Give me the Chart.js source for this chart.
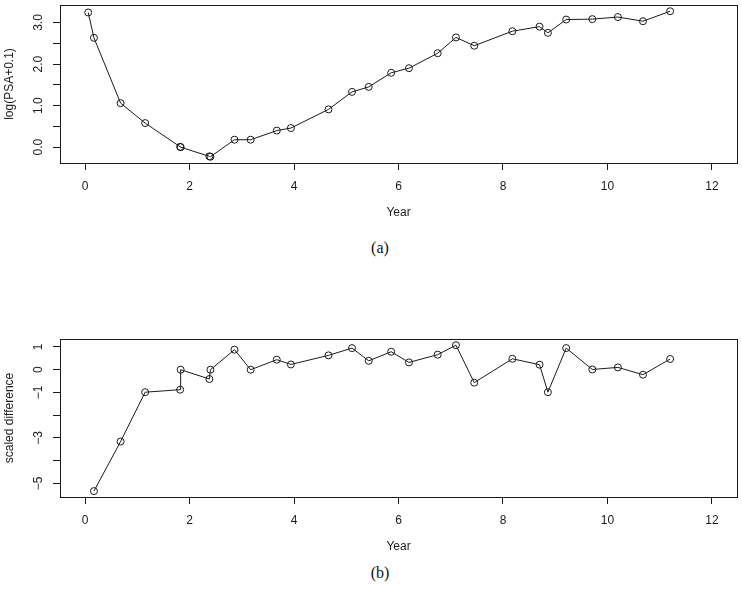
<!DOCTYPE html>
<html>
<head>
<meta charset="utf-8">
<script src="https://cdn.jsdelivr.net/npm/chart.js@4.4.1/dist/chart.umd.min.js"></script>
<style>
  body { margin: 0; background: #fff; width: 742px; height: 593px; position: relative; overflow: hidden; }
  .panel { position: absolute; left: 0; width: 742px; height: 230px; }
  .cap { position: absolute; width: 60px; margin-left: -30px; text-align: center;
         font-family: "Liberation Serif", "DejaVu Serif", serif; font-size: 16px; color: #111; }
</style>
</head>
<body>
<div class="panel" style="top:0"><canvas id="panelA"></canvas></div>
<div class="cap" style="left:380px; top:239px">(a)</div>
<div class="panel" style="top:334px"><canvas id="panelB"></canvas></div>
<div class="cap" style="left:380px; top:564px">(b)</div>
<script>
// panel (a): log PSA over time
const yearA = [0.06, 0.17, 0.68, 1.15, 1.82, 1.83, 2.38, 2.40, 2.86, 3.17, 3.67, 3.94, 4.66, 5.11,
               5.43, 5.86, 6.20, 6.75, 7.10, 7.45, 8.18, 8.70, 8.86, 9.21, 9.71, 10.20, 10.68, 11.20];
const logPsa = [3.24, 2.63, 1.06, 0.58, 0.01, 0.00, -0.22, -0.23, 0.18, 0.18, 0.40, 0.46, 0.91, 1.33,
                1.45, 1.79, 1.90, 2.26, 2.64, 2.44, 2.79, 2.90, 2.75, 3.07, 3.08, 3.13, 3.03, 3.27];

// panel (b): scaled differences
const yearB = [0.17, 0.68, 1.15, 1.82, 1.83, 2.38, 2.40, 2.86, 3.17, 3.67, 3.94, 4.66, 5.11, 5.43,
               5.86, 6.20, 6.75, 7.10, 7.45, 8.18, 8.70, 8.86, 9.21, 9.71, 10.20, 10.68, 11.20];
const scaledDiff = [-5.34, -3.16, -0.99, -0.88, 0.00, -0.41, 0.00, 0.88, 0.00, 0.44, 0.23, 0.63, 0.95, 0.39,
                    0.79, 0.32, 0.66, 1.08, -0.57, 0.48, 0.22, -0.99, 0.95, 0.01, 0.10, -0.22, 0.47];

// ticks
const xTicks = [0, 2, 4, 6, 8, 10, 12];
const yTicksA = [0, 0.5, 1, 1.5, 2, 2.5, 3];
const yLabelsA = [0, 1, 2, 3];
const yLabelTextA = ['0.0', '1.0', '2.0', '3.0'];
const yTicksB = [-5, -4, -3, -2, -1, 0, 1];
const yLabelsB = [-5, -3, -1, 0, 1];
const yLabelTextB = ['\u22125', '\u22123', '\u22121', '0', '1'];

const ink = '#1a1a1a';
const sans = '"Liberation Sans", Arial, Helvetica, sans-serif';

// R-like box, rotated y labels and axis titles
const rFrame = {
    id: 'rFrame',
    afterDraw(chart, args, o) {
        const ctx = chart.ctx;
        const a = chart.chartArea;
        const ys = chart.scales.y;
        ctx.save();
        ctx.strokeStyle = ink;
        ctx.lineWidth = 1;
        ctx.strokeRect(Math.round(a.left) + 0.5, Math.round(a.top) + 0.5,
                       Math.round(a.right - a.left), Math.round(a.bottom - a.top));
        ctx.fillStyle = ink;
        ctx.font = '12px ' + sans;
        ctx.textAlign = 'center';
        ctx.textBaseline = 'middle';
        o.labels.forEach((v, i) => {
            const y = ys.getPixelForValue(v);
            ctx.save();
            ctx.translate(38.5, y);
            ctx.rotate(-Math.PI / 2);
            ctx.fillText(o.texts[i], 0, 0);
            ctx.restore();
        });
        ctx.save();
        ctx.translate(10, (a.top + a.bottom) / 2);
        ctx.rotate(-Math.PI / 2);
        ctx.fillText(o.yTitle, 0, 0);
        ctx.restore();
        ctx.fillText('Year', (a.left + a.right) / 2, 213);
        ctx.restore();
    }
};

function makePanel(id, xs, ys, yMin, yMax, yTicks, yLabels, yTexts, yTitle) {
    const pts = xs.map((x, i) => ({ x: x, y: ys[i] }));
    return new Chart(document.getElementById(id), {
        type: 'scatter',
        data: {
            datasets: [{
                data: pts,
                showLine: true,
                borderColor: ink,
                borderWidth: 1,
                tension: 0,
                pointStyle: 'circle',
                pointRadius: 3.5,
                pointBorderWidth: 1,
                pointBorderColor: ink,
                pointBackgroundColor: 'rgba(0,0,0,0)'
            }]
        },
        options: {
            responsive: true,
            maintainAspectRatio: false,
            animation: false,
            layout: { padding: { top: 4, right: 5, left: 0, bottom: 0 } },
            plugins: {
                legend: { display: false },
                tooltip: { enabled: false },
                rFrame: { labels: yLabels, texts: yTexts, yTitle: yTitle }
            },
            scales: {
                x: {
                    type: 'linear',
                    min: -0.48,
                    max: 12.48,
                    afterBuildTicks: s => { s.ticks = xTicks.map(v => ({ value: v })); },
                    afterFit: s => { s.height = 67; },
                    grid: { drawOnChartArea: false, drawTicks: true, tickLength: 7, color: ink },
                    border: { display: false },
                    ticks: { color: ink, padding: 9, maxRotation: 0, font: { family: sans, size: 12 } }
                },
                y: {
                    type: 'linear',
                    min: yMin,
                    max: yMax,
                    afterBuildTicks: s => { s.ticks = yTicks.map(v => ({ value: v })); },
                    afterFit: s => { s.width = 60; },
                    grid: { drawOnChartArea: false, drawTicks: true, tickLength: 7, color: ink },
                    border: { display: false },
                    ticks: { display: false }
                }
            }
        },
        plugins: [rFrame]
    });
}

makePanel('panelA', yearA, logPsa, -0.38, 3.42, yTicksA, yLabelsA, yLabelTextA, 'log(PSA+0.1)');
makePanel('panelB', yearB, scaledDiff, -5.6, 1.35, yTicksB, yLabelsB, yLabelTextB, 'scaled difference');
</script>
</body>
</html>
